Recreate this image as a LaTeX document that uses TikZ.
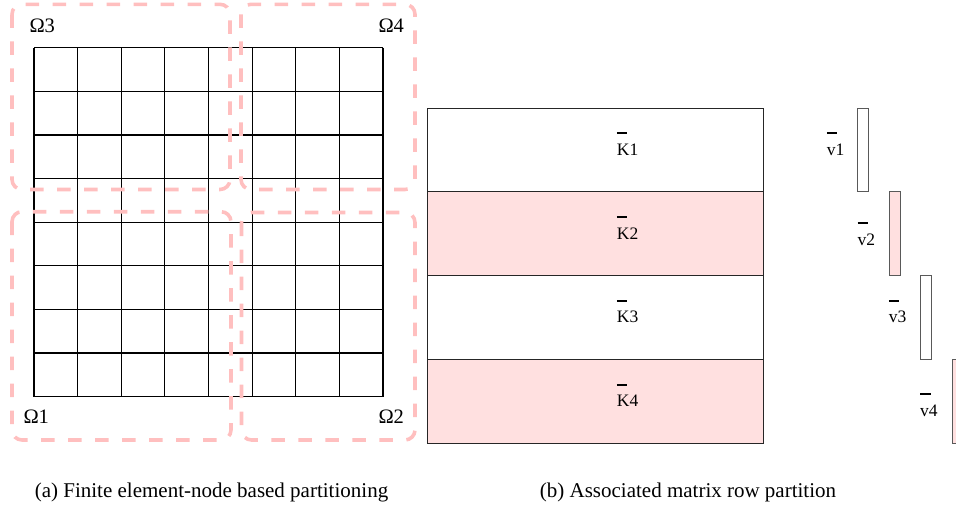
\documentclass[tikz,border=0pt]{standalone}
\usepackage{fontspec}
\setmainfont{Liberation Serif}
\newcommand\barred[2]{\makebox[0pt][l]{\raisebox{1.2em}{\rule{0.6em}{2pt}}}#1#2}
\tikzset{
  gridline/.style={line width=1.2pt, black},
  subdom/.style={draw=red!25, line width=3.6pt, rounded corners=10pt, dash pattern=on 13.5pt off 13.5pt},
  omlabel/.style={font=\fontsize{20.5}{22}\selectfont, anchor=base west, inner sep=0pt},
  rowbox/.style={draw=black!85, line width=1.1pt, minimum width=336pt, minimum height=83.8pt, inner sep=0pt, anchor=north west},
  vecbox/.style={draw=black!65, line width=1pt, minimum width=10.8pt, minimum height=83.8pt, inner sep=0pt, anchor=north west},
  pinkfill/.style={fill=red!12},
  klabel/.style={font=\fontsize{17.5}{19}\selectfont, anchor=base west, inner sep=0pt},
  caption/.style={font=\fontsize{21}{23}\selectfont, anchor=base, inner sep=0pt}
}
\begin{document}
\begin{tikzpicture}[x=1pt, y=-1pt]
\useasboundingbox (0,0) rectangle (956,514);
\clip (0,0) rectangle (956,514);
% mesh
\foreach \i in {0,...,8} {
  \draw[gridline] ({34+\i*43.625},47.7) -- ({34+\i*43.625},396.7);
  \draw[gridline] (34,{47.7+\i*43.625}) -- (383,{47.7+\i*43.625});
}
% subdomains
\draw[subdom] (12,4.3) rectangle (230,189.5);
\draw[subdom] (241,4.3) rectangle (415,189.5);
\draw[subdom] (12,211.7) rectangle (231,440);
\draw[subdom] (241.5,212.5) rectangle (415,440);
\node[omlabel] (o3) at (29.3,32.3) {Ω3};
\node[omlabel] (o4) at (378.3,32.3) {Ω4};
\node[omlabel] (o1) at (23.3,423.3) {Ω1};
\node[omlabel] (o2) at (378.3,423.3) {Ω2};
% matrix rows
\node[rowbox] (r1) at (427.3,107.5) {};
\node[rowbox, pinkfill] (r2) at (427.3,191.3) {};
\node[rowbox] (r3) at (427.3,275.1) {};
\node[rowbox, pinkfill] (r4) at (427.3,358.9) {};
\node[klabel] (k1) at (616.7,155.2) {\barred{K}{1}};
\node[klabel] (k2) at (616.7,239) {\barred{K}{2}};
\node[klabel] (k3) at (616.7,322.8) {\barred{K}{3}};
\node[klabel] (k4) at (616.7,406.6) {\barred{K}{4}};
% vectors
\node[vecbox] (v1) at (857.3,107.5) {};
\node[vecbox, pinkfill] (v2) at (888.7,191.3) {};
\node[vecbox] (v3) at (920.3,275.1) {};
\node[vecbox, pinkfill] (v4) at (952,358.9) {};
\node[klabel] (l1) at (826.7,155.2) {\barred{v}{1}};
\node[klabel] (l2) at (857.5,245) {\barred{v}{2}};
\node[klabel] (l3) at (888.7,322.7) {\barred{v}{3}};
\node[klabel] (l4) at (920,416) {\barred{v}{4}};
% captions
\node[caption] (ca) at (211.5,497) {(a) Finite element-node based partitioning};
\node[caption] (cb) at (688,497) {(b) Associated matrix row partition};
\end{tikzpicture}
\end{document}
